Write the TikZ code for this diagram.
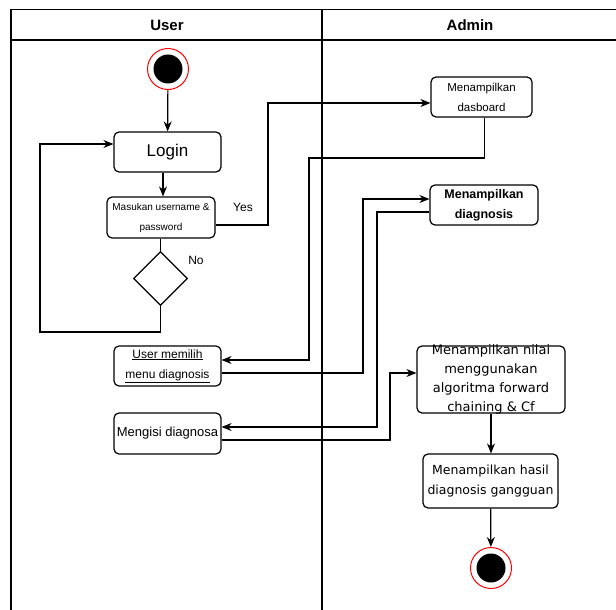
\documentclass[tikz,border=0pt]{standalone}
\usepackage{fontspec}
\setmainfont{Liberation Sans}
\newfontfamily\dvfont{DejaVu Sans}
\usetikzlibrary{arrows.meta,shapes.geometric}

\begin{document}
\begin{tikzpicture}[x=1pt, y=-1pt, >={Stealth[length=10pt,width=8pt]},
  act/.style={draw,rounded corners=5pt,inner sep=0pt,line width=1.2pt,align=center,fill=white},
  flow/.style={->,line width=1.2pt},
  lane/.style={line width=1.2pt},
  endpt/.style={circle,draw=red,line width=1pt,fill=white,minimum size=41pt,inner sep=0pt,
    path picture={\fill[black] (path picture bounding box.center) circle (14.5pt);}}]
 \useasboundingbox (0,0) rectangle (616,610);
 % swimlanes
 \draw[lane] (616,9.5) -- (11,9.5) -- (11,610);
 \draw[lane] (11,40) -- (616,40);
 \draw[lane] (322,9.5) -- (322,610);
 \node[font=\bfseries\fontsize{15}{18}\selectfont] (hu) at (167,25) {User};
 \node[font=\bfseries\fontsize{15}{18}\selectfont] (ha) at (470,25) {Admin};
 % user lane
 \node[endpt] (st) at (168,69) {};
 \node[act,minimum width=107pt,minimum height=40pt,font=\fontsize{17}{20}\selectfont] (login) at (167.5,152) {Login};
 \node[act,minimum width=108pt,minimum height=41pt,font=\fontsize{10}{20}\selectfont] (inp) at (161,217.5) {Masukan username \&\\password};
 \node[diamond,draw,line width=1.2pt,minimum width=54pt,minimum height=54pt,inner sep=0pt] (dec) at (160.5,278.5) {};
 \node[act,minimum width=107pt,minimum height=40pt,font=\fontsize{12}{20}\selectfont] (pilih) at (167.5,366) {\underline{User memilih}\\\underline{menu diagnosis}};
 \node[act,minimum width=107pt,minimum height=41pt,font=\fontsize{13}{20}\selectfont] (isi) at (167.5,433.5) {Mengisi diagnosa};
 % admin lane
 \node[act,minimum width=101pt,minimum height=40pt,font=\fontsize{11.5}{20}\selectfont] (dash) at (481.5,97) {Menampilkan\\dasboard};
 \node[act,minimum width=108pt,minimum height=40pt,font=\bfseries\fontsize{12.5}{20}\selectfont] (diag) at (484,205) {Menampilkan\\diagnosis};
 \node[act,minimum width=148pt,minimum height=67pt,inner ysep=-6pt,font=\dvfont\fontsize{13}{19}\selectfont] (nilai) at (491,379.5) {Menampilkan nilai\\menggunakan\\algoritma forward\\chaining \& Cf};
 \node[act,minimum width=135pt,minimum height=54pt,font=\dvfont\fontsize{12.5}{20}\selectfont] (hasil) at (490.5,481) {Menampilkan hasil\\diagnosis gangguan};
 \node[endpt] (en) at (491,568) {};
 % login flow
 \draw[flow] (st) -- (login);
 \draw[flow] ([xshift=-4.5pt]login.south) -- ([xshift=-4.5pt]login.south |- inp.north);
 \draw[lane] (inp.south -| dec) -- (dec.north);
 \coordinate (lp) at (40,332);
 \draw[flow] (dec.south) |- (lp) |- ([yshift=8pt]login.west);
 \node[font=\fontsize{12}{14}\selectfont] (nl) at (196,260) {No};
 \coordinate (yes) at (268,103);
 \draw[flow] ([yshift=-7.5pt]inp.east) -| (yes) -- ([yshift=-6pt]dash.west);
 \node[font=\fontsize{12}{14}\selectfont] (yl) at (243,207) {Yes};
 % between lanes
 \coordinate (d1) at (309,158);
 \draw[flow] ([xshift=3pt]dash.south) |- (d1) |- ([yshift=6pt]pilih.east);
 \coordinate (d2) at (363,199);
 \draw[flow] ([yshift=-7pt]pilih.east) -| (d2) -- ([yshift=6pt]diag.west);
 \coordinate (d3) at (377,212);
 \draw[flow] ([yshift=-7pt]diag.west) -- (d3) |- ([yshift=6.5pt]isi.east);
 \coordinate (d4) at (390,373);
 \draw[flow] ([yshift=-6.5pt]isi.east) -| (d4) -- ([yshift=6.5pt]nilai.west);
 % result
 \draw[flow] (nilai.south) -- (nilai.south |- hasil.north);
 \draw[flow] (hasil) -- (en);
\end{tikzpicture}
\end{document}
